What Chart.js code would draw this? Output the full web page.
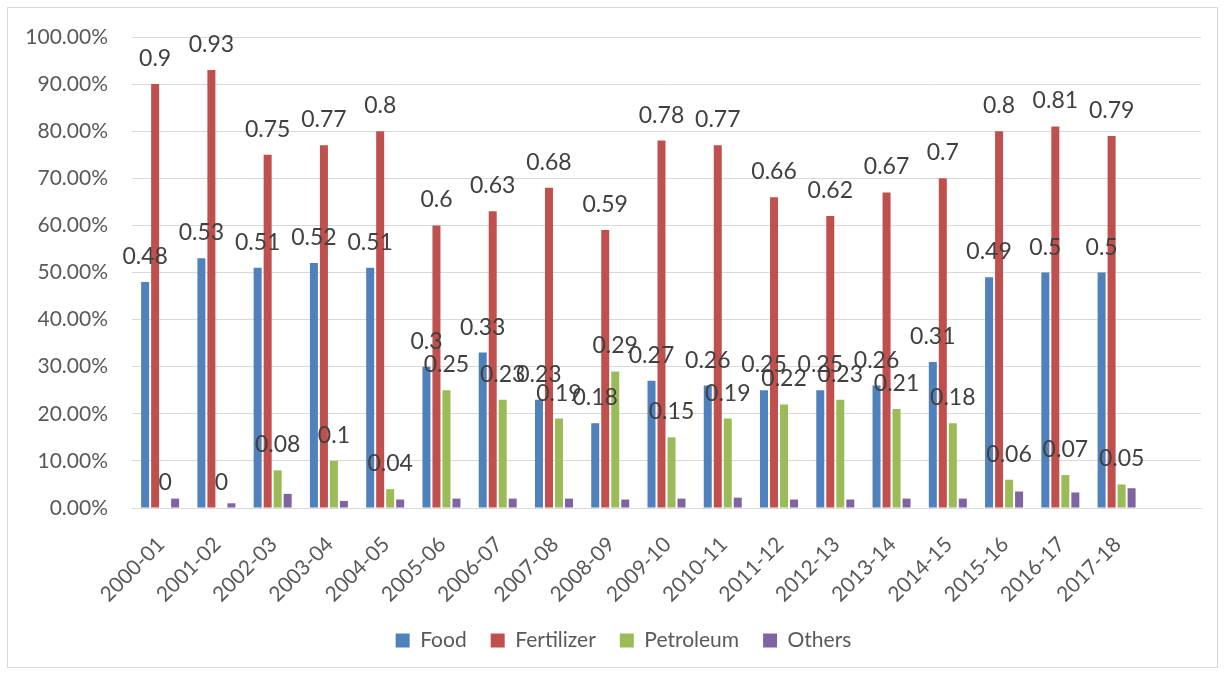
<!DOCTYPE html>
<html>
<head>
<meta charset="utf-8">
<script src="https://cdn.jsdelivr.net/npm/chart.js@4.4.1/dist/chart.umd.min.js"></script>
<style>
  html, body { margin: 0; padding: 0; background: #ffffff; }
  #wrap { position: absolute; left: 0; top: 0; width: 1226px; height: 673px; }
  #frame { position: absolute; left: 7px; top: 7px; width: 1211px; height: 661px;
           border: 1px solid #d9d9d9; box-sizing: border-box; pointer-events: none; }
</style>
</head>
<body>
<div id="wrap">
  <canvas id="chart" width="1226" height="673"></canvas>
  <div id="frame"></div>
</div>
<script>
// Years (the trailing blank slot keeps the empty space at the right of the plot)
const categories = ['2000-01','2001-02','2002-03','2003-04','2004-05','2005-06','2006-07','2007-08','2008-09',
  '2009-10','2010-11','2011-12','2012-13','2013-14','2014-15','2015-16','2016-17','2017-18',''];

const food       = [0.48,0.53,0.51,0.52,0.51,0.3,0.33,0.23,0.18,0.27,0.26,0.25,0.25,0.26,0.31,0.49,0.5,0.5,null];
const fertilizer = [0.9,0.93,0.75,0.77,0.8,0.6,0.63,0.68,0.59,0.78,0.77,0.66,0.62,0.67,0.7,0.8,0.81,0.79,null];
const petroleum  = [0,0,0.08,0.1,0.04,0.25,0.23,0.19,0.29,0.15,0.19,0.22,0.23,0.21,0.18,0.06,0.07,0.05,null];
const others     = [0.02,0.01,0.03,0.015,0.018,0.02,0.02,0.02,0.018,0.02,0.022,0.018,0.018,0.02,0.02,0.035,0.033,0.042,null];

const yTicks = [0,0.1,0.2,0.3,0.4,0.5,0.6,0.7,0.8,0.9,1.0];

const FONT = 'Lato, "Open Sans", sans-serif';

// Writes each value above its bar (Food, Fertilizer and Petroleum only)
const valueLabels = {
  id: 'valueLabels',
  afterDatasetsDraw(chart) {
    const ctx = chart.ctx;
    ctx.save();
    ctx.font = '23px ' + FONT;
    ctx.fillStyle = '#404040';
    ctx.textAlign = 'center';
    ctx.textBaseline = 'alphabetic';
    chart.data.datasets.forEach((ds, di) => {
      if (!ds.showValues) return;
      const meta = chart.getDatasetMeta(di);
      meta.data.forEach((bar, i) => {
        const v = ds.data[i];
        if (v === null || v === undefined) return;
        ctx.fillText(String(v), bar.x, bar.y - 18);
      });
    });
    ctx.restore();
  }
};

// Nudges the legend row a little to the right of the canvas centre
const legendShift = {
  id: 'legendShift',
  afterLayout(chart) {
    const lg = chart.legend;
    if (lg) { lg.left += 23; lg.right += 23; }
  }
};

new Chart(document.getElementById('chart'), {
  type: 'bar',
  data: {
    labels: categories,
    datasets: [
      { label: 'Food',       data: food,       backgroundColor: '#4F81BD', showValues: true },
      { label: 'Fertilizer', data: fertilizer, backgroundColor: '#C0504D', showValues: true },
      { label: 'Petroleum',  data: petroleum,  backgroundColor: '#9BBB59', showValues: true },
      { label: 'Others',     data: others,     backgroundColor: '#8064A2', showValues: false }
    ]
  },
  options: {
    responsive: false,
    animation: false,
    devicePixelRatio: 1,
    categoryPercentage: 0.711,
    barPercentage: 0.8,
    layout: { padding: { top: 37, right: 25, left: 0, bottom: 12 } },
    plugins: {
      legend: {
        position: 'bottom',
        labels: {
          boxWidth: 14, boxHeight: 14, padding: 24,
          color: '#595959',
          font: { family: FONT, size: 21 }
        }
      },
      tooltip: { enabled: false }
    },
    scales: {
      x: {
        grid: { display: false, drawTicks: false },
        border: { display: true, color: '#d9d9d9', width: 1 },
        ticks: {
          autoSkip: false, maxRotation: 45, minRotation: 45, padding: 24, labelOffset: 1,
          color: '#595959', font: { family: FONT, size: 21 }
        },
        afterFit(scale) { scale.height = 98; }
      },
      y: {
        min: 0, max: 1,
        afterBuildTicks(scale) { scale.ticks = yTicks.map(v => ({ value: v })); },
        grid: { color: '#d9d9d9', lineWidth: 1, drawTicks: false },
        border: { display: false },
        ticks: {
          padding: 24,
          color: '#595959', font: { family: FONT, size: 21 },
          callback: v => (v * 100).toFixed(2) + '%'
        },
        afterFit(scale) { scale.width = 132; }
      }
    }
  },
  plugins: [valueLabels, legendShift]
});
</script>
</body>
</html>
